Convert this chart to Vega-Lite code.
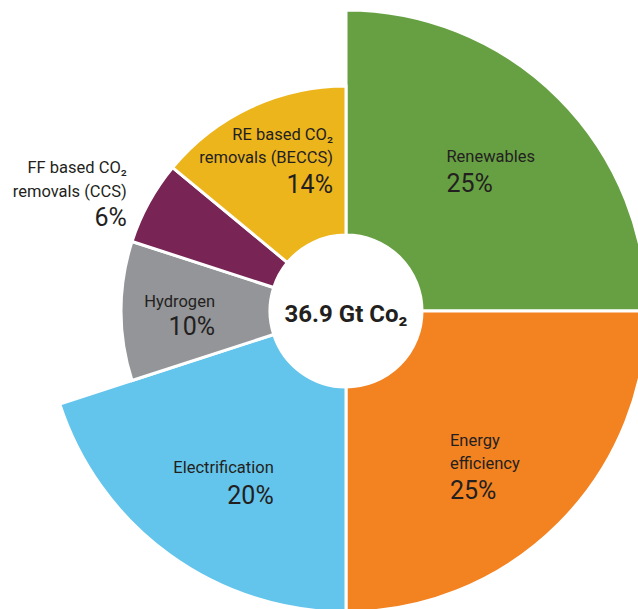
{
  "$schema": "https://vega.github.io/schema/vega-lite/v6.json",
  "width": 638,
  "height": 609,
  "autosize": {"type": "none"},
  "padding": 0,
  "background": "white",
  "config": {"view": {"stroke": null}},
  "data": {"values": [
    {"name": "Renewables", "label": "Renewables", "share": 0.25, "rank": 1},
    {"name": "Energy efficiency", "label": "Energy\nefficiency", "share": 0.25, "rank": 2},
    {"name": "Electrification", "label": "Electrification", "share": 0.20, "rank": 3},
    {"name": "Hydrogen", "label": "Hydrogen", "share": 0.10, "rank": 4},
    {"name": "FF based CO2 removals (CCS)", "label": "FF based CO₂\nremovals (CCS)", "share": 0.06, "rank": 5},
    {"name": "RE based CO2 removals (BECCS)", "label": "RE based CO₂\nremovals (BECCS)", "share": 0.14, "rank": 6}
  ]},
  "layer": [
    {
      "transform": [
        {"stack": "share", "groupby": [], "sort": [{"field": "rank", "order": "ascending"}], "as": ["s0", "s1"]},
        {"filter": "datum.share >= 0.2"}
      ],
      "mark": {"type": "arc", "x": 346, "y": 311, "innerRadius": 76, "outerRadius": 301, "stroke": "white", "strokeWidth": 3},
      "encoding": {
        "theta": {"field": "s0", "type": "quantitative", "scale": {"domain": [0, 1]}},
        "theta2": {"field": "s1"},
        "color": {"field": "name", "type": "nominal", "legend": null,
          "scale": {"domain": ["Renewables", "Energy efficiency", "Electrification", "Hydrogen", "FF based CO2 removals (CCS)", "RE based CO2 removals (BECCS)"],
                    "range": ["#66a043", "#f38221", "#64c5ec", "#939598", "#782556", "#edb51c"]}}
      }
    },
    {
      "transform": [
        {"stack": "share", "groupby": [], "sort": [{"field": "rank", "order": "ascending"}], "as": ["s0", "s1"]},
        {"filter": "datum.share < 0.2"}
      ],
      "mark": {"type": "arc", "x": 346, "y": 311, "innerRadius": 76, "outerRadius": 225, "stroke": "white", "strokeWidth": 3},
      "encoding": {
        "theta": {"field": "s0", "type": "quantitative", "scale": {"domain": [0, 1]}},
        "theta2": {"field": "s1"},
        "color": {"field": "name", "type": "nominal", "legend": null}
      }
    },
    {
      "mark": {"type": "text", "x": 346, "y": 311, "radius": 200, "align": "left", "baseline": "alphabetic", "dx": -41, "dy": -8, "font": "Roboto", "fontSize": 16.5, "fill": "#231f20", "lineBreak": "\n", "lineHeight": 23},
      "encoding": {
        "theta": {"field": "share", "type": "quantitative", "stack": true},
        "order": {"field": "rank", "type": "quantitative"},
        "text": {"condition": {"test": "datum.rank === 1", "field": "label", "type": "nominal"}, "value": ""}
      }
    },
    {
      "mark": {"type": "text", "x": 346, "y": 311, "radius": 200, "align": "left", "baseline": "alphabetic", "dx": -41, "dy": 22, "font": "Roboto", "fontSize": 25, "fill": "#231f20"},
      "encoding": {
        "theta": {"field": "share", "type": "quantitative", "stack": true},
        "order": {"field": "rank", "type": "quantitative"},
        "text": {"condition": {"test": "datum.rank === 1", "field": "share", "type": "quantitative", "format": ".0%"}, "value": ""}
      }
    },
    {
      "mark": {"type": "text", "x": 346, "y": 311, "radius": 205, "align": "left", "baseline": "alphabetic", "dx": -41, "dy": -10, "font": "Roboto", "fontSize": 16.5, "fill": "#231f20", "lineBreak": "\n", "lineHeight": 23},
      "encoding": {
        "theta": {"field": "share", "type": "quantitative", "stack": true},
        "order": {"field": "rank", "type": "quantitative"},
        "text": {"condition": {"test": "datum.rank === 2", "field": "label", "type": "nominal"}, "value": ""}
      }
    },
    {
      "mark": {"type": "text", "x": 346, "y": 311, "radius": 205, "align": "left", "baseline": "alphabetic", "dx": -41, "dy": 43, "font": "Roboto", "fontSize": 25, "fill": "#231f20"},
      "encoding": {
        "theta": {"field": "share", "type": "quantitative", "stack": true},
        "order": {"field": "rank", "type": "quantitative"},
        "text": {"condition": {"test": "datum.rank === 2", "field": "share", "type": "quantitative", "format": ".0%"}, "value": ""}
      }
    },
    {
      "mark": {"type": "text", "x": 346, "y": 311, "radius": 208, "align": "right", "baseline": "alphabetic", "dx": 50, "dy": -6, "font": "Roboto", "fontSize": 16.5, "fill": "#231f20", "lineBreak": "\n", "lineHeight": 23},
      "encoding": {
        "theta": {"field": "share", "type": "quantitative", "stack": true},
        "order": {"field": "rank", "type": "quantitative"},
        "text": {"condition": {"test": "datum.rank === 3", "field": "label", "type": "nominal"}, "value": ""}
      }
    },
    {
      "mark": {"type": "text", "x": 346, "y": 311, "radius": 208, "align": "right", "baseline": "alphabetic", "dx": 50, "dy": 25, "font": "Roboto", "fontSize": 25, "fill": "#231f20"},
      "encoding": {
        "theta": {"field": "share", "type": "quantitative", "stack": true},
        "order": {"field": "rank", "type": "quantitative"},
        "text": {"condition": {"test": "datum.rank === 3", "field": "share", "type": "quantitative", "format": ".0%"}, "value": ""}
      }
    },
    {
      "mark": {"type": "text", "x": 346, "y": 311, "radius": 166, "align": "right", "baseline": "alphabetic", "dx": 35, "dy": -4, "font": "Roboto", "fontSize": 16.5, "fill": "#231f20", "lineBreak": "\n", "lineHeight": 23},
      "encoding": {
        "theta": {"field": "share", "type": "quantitative", "stack": true},
        "order": {"field": "rank", "type": "quantitative"},
        "text": {"condition": {"test": "datum.rank === 4", "field": "label", "type": "nominal"}, "value": ""}
      }
    },
    {
      "mark": {"type": "text", "x": 346, "y": 311, "radius": 166, "align": "right", "baseline": "alphabetic", "dx": 35, "dy": 24, "font": "Roboto", "fontSize": 25, "fill": "#231f20"},
      "encoding": {
        "theta": {"field": "share", "type": "quantitative", "stack": true},
        "order": {"field": "rank", "type": "quantitative"},
        "text": {"condition": {"test": "datum.rank === 4", "field": "share", "type": "quantitative", "format": ".0%"}, "value": ""}
      }
    },
    {
      "mark": {"type": "text", "x": 346, "y": 311, "radius": 290, "align": "right", "baseline": "alphabetic", "dx": 35, "dy": 2, "font": "Roboto", "fontSize": 16.5, "fill": "#231f20", "lineBreak": "\n", "lineHeight": 23.4},
      "encoding": {
        "theta": {"field": "share", "type": "quantitative", "stack": true},
        "order": {"field": "rank", "type": "quantitative"},
        "text": {"condition": {"test": "datum.rank === 5", "field": "label", "type": "nominal"}, "value": ""}
      }
    },
    {
      "mark": {"type": "text", "x": 346, "y": 311, "radius": 290, "align": "right", "baseline": "alphabetic", "dx": 35, "dy": 55, "font": "Roboto", "fontSize": 25, "fill": "#231f20"},
      "encoding": {
        "theta": {"field": "share", "type": "quantitative", "stack": true},
        "order": {"field": "rank", "type": "quantitative"},
        "text": {"condition": {"test": "datum.rank === 5", "field": "share", "type": "quantitative", "format": ".0%"}, "value": ""}
      }
    },
    {
      "mark": {"type": "text", "x": 346, "y": 311, "radius": 168, "align": "right", "baseline": "alphabetic", "dx": 58.5, "dy": -19, "font": "Roboto", "fontSize": 16.5, "fill": "#231f20", "lineBreak": "\n", "lineHeight": 23},
      "encoding": {
        "theta": {"field": "share", "type": "quantitative", "stack": true},
        "order": {"field": "rank", "type": "quantitative"},
        "text": {"condition": {"test": "datum.rank === 6", "field": "label", "type": "nominal"}, "value": ""}
      }
    },
    {
      "mark": {"type": "text", "x": 346, "y": 311, "radius": 168, "align": "right", "baseline": "alphabetic", "dx": 58.5, "dy": 34, "font": "Roboto", "fontSize": 25, "fill": "#231f20"},
      "encoding": {
        "theta": {"field": "share", "type": "quantitative", "stack": true},
        "order": {"field": "rank", "type": "quantitative"},
        "text": {"condition": {"test": "datum.rank === 6", "field": "share", "type": "quantitative", "format": ".0%"}, "value": ""}
      }
    },
    {
      "data": {"values": [{"total": "36.9 Gt Co₂"}]},
      "mark": {"type": "text", "x": 346, "y": 322, "align": "center", "baseline": "alphabetic", "font": "Roboto", "fontWeight": "bold", "fontSize": 24, "fill": "#231f20"},
      "encoding": {
        "text": {"field": "total", "type": "nominal"}
      }
    }
  ]
}
